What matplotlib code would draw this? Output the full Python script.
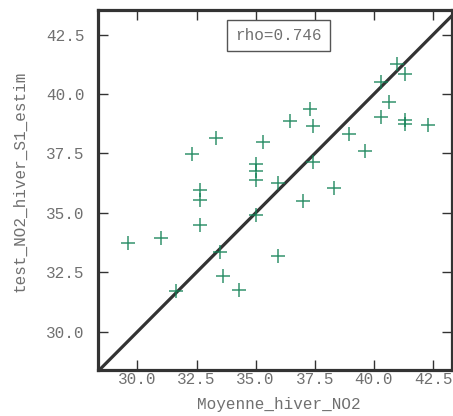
import matplotlib
matplotlib.use("Agg")
import matplotlib.pyplot as plt

x_obs = [29.62, 30.99, 31.62, 32.30, 32.65, 32.65, 32.65, 33.31, 33.50, 33.64,
         34.30, 35.00, 35.00, 35.00, 35.00, 35.30, 35.95, 35.94, 36.46, 36.98,
         37.30, 37.44, 37.44, 38.29, 38.96, 39.63, 40.29, 40.29, 40.63, 40.97,
         41.32, 41.30, 41.30, 42.30]
y_est = [33.73, 33.96, 31.73, 37.49, 35.97, 35.55, 34.50, 38.17, 33.37, 32.35,
         31.76, 37.07, 36.78, 36.38, 34.90, 37.97, 36.26, 33.20, 38.85, 35.52,
         39.38, 38.67, 37.14, 36.04, 38.33, 37.61, 40.52, 39.05, 39.66, 41.24,
         40.85, 38.89, 38.75, 38.69]
ticks = [30.0, 32.5, 35.0, 37.5, 40.0, 42.5]
rho_label = "rho=0.746"
x_name = "Moyenne_hiver_NO2"
y_name = "test_NO2_hiver_S1_estim"

plt.rcParams['font.family'] = ['Liberation Mono', 'DejaVu Sans Mono']
txt_color = '#707070'
dark = '#333333'

fig = plt.figure(figsize=(4.53, 4.16), dpi=100)
ax = fig.add_axes([0.217, 0.111, 0.781, 0.866])

lo, hi = 28.35, 43.6
ax.plot([lo, hi], [lo, hi], color=dark, lw=2.3, zorder=2)
ax.plot(x_obs, y_est, linestyle='none', marker='+', markersize=9.5,
        markeredgewidth=1.1, color='#118055', alpha=0.85, zorder=3)

ax.set_xlim(28.35, 43.3)
ax.set_ylim(28.4, 43.55)
ax.set_xticks(ticks)
ax.set_yticks(ticks)
ax.set_xticklabels([f"{t:.1f}" for t in ticks])
ax.set_yticklabels([f"{t:.1f}" for t in ticks])

for s in ax.spines.values():
    s.set_linewidth(2.3)
    s.set_color(dark)
ax.tick_params(direction='in', length=7, width=1, color=dark,
               labelsize=11.5, labelcolor=txt_color, top=True, right=True)
ax.tick_params(axis='x', pad=1.5)
ax.tick_params(axis='y', pad=10)

ax.set_xlabel(x_name, fontsize=11.5, color=txt_color)
ax.set_ylabel(y_name, fontsize=11.5, color=txt_color)
ax.xaxis.set_label_coords(0.51, -0.076)
ax.yaxis.set_label_coords(-0.2, 0.522)

ax.text(0.51, 0.927, rho_label, transform=ax.transAxes, ha='center', va='center',
        fontsize=11.5, color=txt_color,
        bbox=dict(boxstyle='square,pad=0.5', facecolor='white', edgecolor='#555555', lw=1))

fig.savefig('out.png', dpi=100)
